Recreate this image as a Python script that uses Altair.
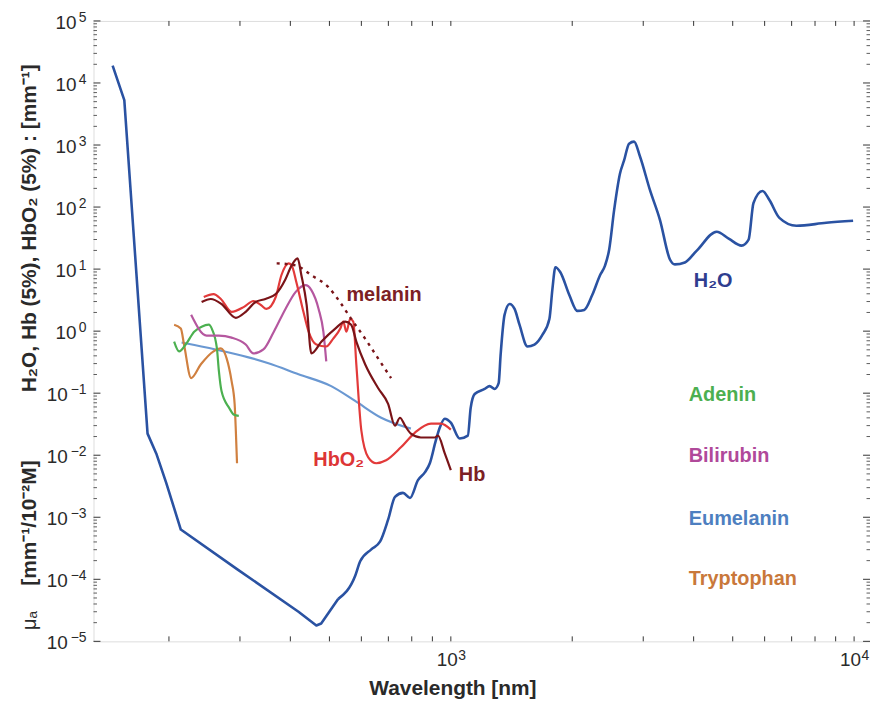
import altair as alt
import pandas as pd

# ---------------- data (wavelength in nm, absorption coefficient) ----------------
h2o_wl = [145, 155, 177, 186, 197, 214, 295, 419, 464, 477,
          526, 579, 596, 635, 668, 699, 727, 761, 792, 829,
          863, 887, 918, 939, 966, 1000, 1052, 1102, 1120, 1146,
          1213, 1248, 1284, 1314, 1329, 1359, 1399, 1439, 1480, 1549,
          1612, 1688, 1756, 1786, 1817, 1869, 1967, 2059, 2142, 2242,
          2344, 2413, 2470, 2541, 2628, 2689, 2767, 2847, 2945, 3118,
          3300, 3494, 3594, 3804, 4073, 4563, 4886, 5260, 5475, 5630,
          5926, 6166, 6527, 7193, 8529, 9943]
h2o_mu = [1.9e4, 5300, 0.0223, 0.0107, 0.00356, 6.34e-4, 1.46e-4, 3.0e-5, 1.80e-5, 1.94e-5,
          4.84e-5, 1.13e-4, 1.95e-4, 3.04e-4, 4.07e-4, 9.14e-4, 2.13e-3, 2.47e-3, 2.05e-3, 3.97e-3,
          5.33e-3, 7.42e-3, 0.0173, 0.0279, 0.0387, 0.0334, 0.0186, 0.0207, 0.058, 0.097,
          0.117, 0.130, 0.117, 0.145, 0.421, 1.83, 2.74, 2.28, 1.27, 0.565,
          0.608, 0.879, 1.58, 4.76, 10.7, 8.89, 3.82, 2.12, 2.20, 3.82,
          7.96, 11.5, 20.7, 89.9, 350, 564, 1052, 1133, 653, 187,
          62.2, 14.3, 11.9, 12.8, 19.9, 40.0, 31.0, 23.9, 29.9, 116,
          181, 130, 67.0, 49.9, 55.7, 60.0]
H2O_LINEAR_UNTIL = 10  # UV part of the water curve is drawn with straight segments

hb_wl = [241, 254, 270, 293, 310, 328, 347, 368, 389, 403,
         417, 426, 439, 451, 478, 517, 547, 566, 583, 613,
         660, 699, 727, 748, 770, 796, 843, 913, 929, 966, 1000]
hb_mu = [2.95, 3.30, 2.74, 1.64, 2.05, 2.95, 3.30, 3.96, 6.87, 11.5,
         14.9, 7.96, 2.64, 0.437, 0.679, 1.10, 1.42, 1.27, 0.679, 0.292,
         0.121, 0.0672, 0.0299, 0.0402, 0.0299, 0.0223, 0.0193, 0.0193, 0.0207, 0.0107, 0.00574]

hbo2_wl = [244, 258, 269, 286, 307, 324, 338, 349, 368, 380,
           396, 403, 414, 431, 444, 464, 491, 511, 532, 541,
           551, 563, 573, 583, 600, 624, 653, 691, 752, 815,
           893, 945, 1000]
hbo2_mu = [3.55, 3.96, 3.30, 2.05, 2.46, 3.06, 2.64, 2.28, 3.55, 7.96,
           12.4, 11.5, 6.15, 2.05, 0.98, 0.608, 0.565, 0.759, 1.10, 1.42,
           0.98, 1.58, 1.42, 0.292, 0.0249, 0.00925, 0.00742, 0.00828, 0.0134, 0.0232,
           0.0322, 0.0322, 0.0259]

bili_wl = [227, 248, 266, 286, 310, 324, 343, 364, 389, 412, 436, 451, 470, 483, 491]
bili_mu = [1.83, 0.847, 0.847, 0.787, 0.608, 0.437, 0.507, 0.98, 2.28, 4.26, 5.51, 4.59, 2.28, 0.98, 0.326]

eu_wl = [215, 261, 315, 353, 419, 505, 579, 672, 796]
eu_mu = [0.655, 0.507, 0.378, 0.303, 0.202, 0.130, 0.075, 0.0402, 0.0268]

ade_wl = [206, 212, 220, 231, 241, 251, 256, 263, 266, 270, 282, 290, 298]
ade_mu = [0.679, 0.471, 0.608, 0.98, 1.18, 1.27, 1.06, 0.526, 0.226, 0.108, 0.058, 0.0449, 0.0432]

trp_wl = [206, 214, 218, 227, 240, 258, 269, 278, 286, 291, 293, 295]
trp_mu = [1.27, 1.10, 0.608, 0.175, 0.292, 0.471, 0.526, 0.364, 0.156, 0.0672, 0.0249, 0.00742]

mel_wl = [370, 412, 451, 497, 535, 566, 613, 660, 711]
mel_mu = [12.4, 11.5, 7.96, 5.12, 2.74, 1.58, 0.759, 0.364, 0.175]

series_names = ["Eumelanin", "Tryptophan", "Adenin", "Bilirubin", "HbO2", "Hb"]
series_colors = ["#6a98d2", "#d08040", "#4cb050", "#b5579f", "#e23a3a", "#7a1418"]

label_text = ["melanin", "HbO₂", "Hb", "H₂O", "Adenin", "Bilirubin", "Eumelanin", "Tryptophan"]
label_wl = [551, 456, 1047, 4004, 3890, 3890, 3890, 3890]
label_mu = [3.82, 0.00828, 0.00478, 6.38, 0.0935, 0.0096, 9.5e-4, 1.01e-4]
label_colors = ["#7c2024", "#dd3535", "#7c2024", "#2f3d8f", "#4caf50", "#b0499a", "#4e7fc0", "#c9783a"]

x_ticks = [200, 300, 400, 500, 600, 700, 800, 900, 1000,
           2000, 3000, 4000, 5000, 6000, 7000, 8000, 9000, 10000]
x_label_values = [1000, 10000]
x_label_exp = ["3", "4"]
y_major = [1e-5, 1e-4, 1e-3, 1e-2, 1e-1, 1, 10, 100, 1e3, 1e4, 1e5]
y_label_exp = ["−5", "−4", "−3", "−2", "−1", "0", "1", "2", "3", "4", "5"]

# ---------------- build tables ----------------
rows = []
for name, wl, mu in [("Eumelanin", eu_wl, eu_mu),
                     ("Tryptophan", trp_wl, trp_mu), ("Adenin", ade_wl, ade_mu),
                     ("Bilirubin", bili_wl, bili_mu), ("HbO2", hbo2_wl, hbo2_mu),
                     ("Hb", hb_wl, hb_mu)]:
    for i, (w, m) in enumerate(zip(wl, mu)):
        rows.append({"series": name, "wl": w, "mu": m, "idx": i})
df = pd.DataFrame(rows)

h2o_rows = []
for i, (w, m) in enumerate(zip(h2o_wl, h2o_mu)):
    if i <= H2O_LINEAR_UNTIL:
        h2o_rows.append({"series": "H2O_uv", "wl": w, "mu": m, "idx": i})
    if i >= H2O_LINEAR_UNTIL:
        h2o_rows.append({"series": "H2O", "wl": w, "mu": m, "idx": i})
df_h2o = pd.DataFrame(h2o_rows)

df_mel = pd.DataFrame({"wl": mel_wl, "mu": mel_mu, "idx": list(range(len(mel_wl)))})
df_lab = pd.DataFrame({"t": label_text, "wl": label_wl, "mu": label_mu, "c": label_colors})

minor = [m * 10 ** k for k in range(-5, 5) for m in range(2, 10)]
df_xt = pd.DataFrame({"t": x_ticks})
df_ymaj = pd.DataFrame({"t": y_major})
df_ymin = pd.DataFrame({"t": minor})
df_xl = pd.DataFrame({"t": x_label_values, "base": ["10"] * 2, "exp": x_label_exp})
df_yl = pd.DataFrame({"t": y_major, "base": ["10"] * len(y_major), "exp": y_label_exp,
                      "neg": [e.startswith("−") for e in y_label_exp]})

W, H = 781, 624
FONT = "Liberation Sans"
TXT = "#2a2a2a"
H2O_COL = "#2a52a2"
xs = alt.Scale(type="log", domain=[130, 10950], nice=False)
ys = alt.Scale(type="log", domain=[1e-5, 1e5], nice=False)

x_axis = alt.Axis(values=x_label_values, labels=False, ticks=False, domain=False, grid=False,
                  title="Wavelength [nm]", titleFontSize=21, titleFontWeight="bold",
                  titleColor=TXT, titleFont=FONT, titleX=361, titleY=47,
                  titleAlign="center", titleBaseline="middle")
y_axis = alt.Axis(values=y_major, labels=False, ticks=False, domain=False, grid=False,
                  title="H₂O, Hb (5%),  HbO₂ (5%) : [mm⁻¹]", titleFontSize=21,
                  titleFontWeight="bold", titleColor=TXT, titleFont=FONT,
                  titleX=-64, titleY=208, titleAngle=270, titleAlign="center",
                  titleBaseline="middle")

h2o_uv = alt.Chart(df_h2o).transform_filter(alt.datum.series == "H2O_uv").mark_line(
    interpolate="linear", clip=True, color=H2O_COL, strokeWidth=2.6, strokeJoin="round").encode(
    x=alt.X("wl:Q", scale=xs, axis=x_axis),
    y=alt.Y("mu:Q", scale=ys, axis=y_axis),
    order="idx:Q")
h2o = alt.Chart(df_h2o).transform_filter(alt.datum.series == "H2O").mark_line(
    interpolate="monotone", clip=True, color=H2O_COL, strokeWidth=2.6).encode(
    x=alt.X("wl:Q", scale=xs), y=alt.Y("mu:Q", scale=ys), order="idx:Q")

lines = alt.Chart(df).mark_line(interpolate="monotone", clip=True, strokeWidth=2.2).encode(
    x=alt.X("wl:Q", scale=xs),
    y=alt.Y("mu:Q", scale=ys),
    color=alt.Color("series:N", scale=alt.Scale(domain=series_names, range=series_colors), legend=None),
    detail="series:N",
    order="idx:Q",
)

mel = alt.Chart(df_mel).mark_line(interpolate="monotone", color="#7a1418", strokeWidth=2.4,
                                  strokeDash=[3, 5]).encode(
    x=alt.X("wl:Q", scale=xs), y=alt.Y("mu:Q", scale=ys), order="idx:Q")

labels = alt.Chart(df_lab).mark_text(align="left", baseline="middle", fontSize=20,
                                     fontWeight="bold", font=FONT).encode(
    x=alt.X("wl:Q", scale=xs), y=alt.Y("mu:Q", scale=ys), text="t:N",
    color=alt.Color("c:N", scale=None))

tick_col = "#333"
xt_bot = alt.Chart(df_xt).mark_rule(color=tick_col, strokeWidth=1).encode(
    x=alt.X("t:Q", scale=xs), y=alt.value(H), y2=alt.value(H - 5))
xt_top = alt.Chart(df_xt).mark_rule(color=tick_col, strokeWidth=1).encode(
    x=alt.X("t:Q", scale=xs), y=alt.value(0), y2=alt.value(5))
yt_l = alt.Chart(df_ymaj).mark_rule(color=tick_col, strokeWidth=1).encode(
    y=alt.Y("t:Q", scale=ys), x=alt.value(0), x2=alt.value(7))
yt_r = alt.Chart(df_ymaj).mark_rule(color=tick_col, strokeWidth=1).encode(
    y=alt.Y("t:Q", scale=ys), x=alt.value(W), x2=alt.value(W - 7))
ym_l = alt.Chart(df_ymin).mark_rule(color=tick_col, strokeWidth=0.8).encode(
    y=alt.Y("t:Q", scale=ys), x=alt.value(0), x2=alt.value(3.5))
ym_r = alt.Chart(df_ymin).mark_rule(color=tick_col, strokeWidth=0.8).encode(
    y=alt.Y("t:Q", scale=ys), x=alt.value(W), x2=alt.value(W - 3.5))

# tick labels as "10" with a raised exponent
xl_base = alt.Chart(df_xl).mark_text(align="right", baseline="middle", fontSize=19, dx=7,
                                     font=FONT, color=TXT).encode(
    x=alt.X("t:Q", scale=xs), y=alt.value(H + 19), text="base:N")
xl_exp = alt.Chart(df_xl).mark_text(align="left", baseline="middle", fontSize=14, dx=7.5, dy=-4,
                                    font=FONT, color=TXT).encode(
    x=alt.X("t:Q", scale=xs), y=alt.value(H + 19), text="exp:N")
yl_exp = alt.Chart(df_yl).mark_text(align="right", baseline="middle", fontSize=14, dy=-3,
                                    font=FONT, color=TXT).encode(
    y=alt.Y("t:Q", scale=ys), x=alt.value(-7), text="exp:N")
yl_base_pos = alt.Chart(df_yl).transform_filter("!datum.neg").mark_text(
    align="right", baseline="middle", fontSize=19, dx=-10, dy=2, font=FONT, color=TXT).encode(
    y=alt.Y("t:Q", scale=ys), x=alt.value(-7), text="base:N")
yl_base_neg = alt.Chart(df_yl).transform_filter("datum.neg").mark_text(
    align="right", baseline="middle", fontSize=19, dx=-19, dy=2, font=FONT, color=TXT).encode(
    y=alt.Y("t:Q", scale=ys), x=alt.value(-7), text="base:N")

one = pd.DataFrame({"a": [0]})
ytitle2 = alt.Chart(one).mark_text(angle=270, fontSize=21, fontWeight="bold", font=FONT,
                                   color=TXT, align="center", baseline="middle").encode(
    x=alt.value(-64), y=alt.value(505), text=alt.value("[mm⁻¹/10⁻²M]"))
ytitle3 = alt.Chart(one).mark_text(angle=270, fontSize=20, font=FONT,
                                   color=TXT, align="center", baseline="middle").encode(
    x=alt.value(-64), y=alt.value(603), text=alt.value("μₐ"))

chart = alt.layer(h2o_uv, h2o, lines, mel, labels, xt_bot, xt_top, yt_l, yt_r, ym_l, ym_r,
                  xl_base, xl_exp, yl_exp, yl_base_pos, yl_base_neg,
                  ytitle2, ytitle3).properties(
    width=W, height=H,
    autosize=alt.AutoSizeParams(type="none"),
    padding={"left": 86, "top": 11, "right": 0, "bottom": 60},
).configure_view(stroke="#333", strokeWidth=1.2).configure(font=FONT)

chart.save("out.html", embed_options={"renderer": "svg", "actions": False})
